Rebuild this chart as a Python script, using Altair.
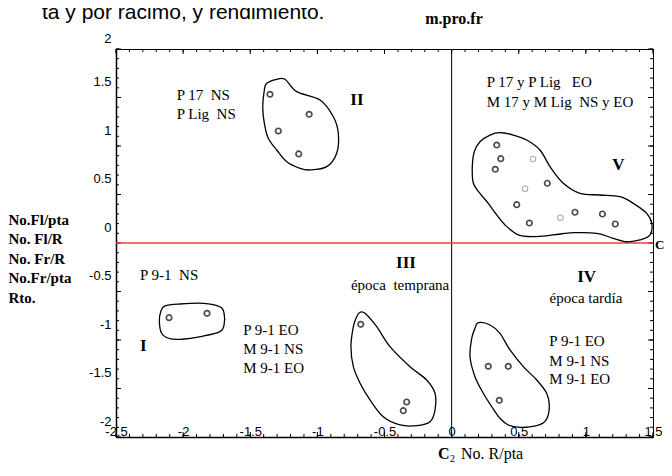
import altair as alt
import numpy as np
import pandas as pd

W, H = 537, 388

# ---------------- data ----------------
# observations (open circles)
pt_x = [-1.353, -1.061, -1.291, -1.139,
        -2.105, -1.822,
        -0.677, -0.335, -0.360,
        0.273, 0.422, 0.355,
        0.336, 0.366, 0.325, 0.606, 0.547, 0.713, 0.485, 0.579, 0.810, 0.919, 1.123, 1.219]
pt_y = [1.533, 1.327, 1.155, 0.918,
        -0.770, -0.725,
        -0.838, -1.639, -1.729,
        -1.271, -1.271, -1.622,
        1.010, 0.869, 0.760, 0.866, 0.560, 0.616, 0.395, 0.206, 0.261, 0.317, 0.299, 0.196]
pt_tone = ["dark"] * 12 + ["dark", "dark", "dark", "gray", "gray", "dark",
                           "dark", "dark", "gray", "dark", "dark", "dark"]

# hand-drawn group outlines
shape_I_x = [-2.135, -2.023, -1.850, -1.725, -1.695, -1.695, -1.725, -1.850, -2.023, -2.110, -2.160, -2.177, -2.167]
shape_I_y = [-0.649, -0.629, -0.622, -0.657, -0.725, -0.845, -0.914, -0.959, -0.993, -0.982, -0.931, -0.811, -0.708]

shape_II_x = [-1.377, -1.303, -1.241, -1.154, -0.980, -0.881, -0.844, -0.856, -0.930, -1.055, -1.129, -1.228,
              -1.303, -1.366, -1.395, -1.407, -1.395]
shape_II_y = [1.646, 1.688, 1.688, 1.560, 1.474, 1.302, 1.131, 0.925, 0.787, 0.753, 0.770, 0.838,
              0.959, 1.079, 1.234, 1.405, 1.577]

shape_III_x = [-0.682, -0.645, -0.558, -0.459, -0.310, -0.186, -0.124, -0.124, -0.161, -0.260, -0.384, -0.509,
               -0.608, -0.682, -0.732, -0.750, -0.732, -0.707]
shape_III_y = [-0.714, -0.725, -0.863, -1.069, -1.275, -1.412, -1.549, -1.722, -1.842, -1.883, -1.876, -1.791,
               -1.618, -1.446, -1.275, -1.069, -0.863, -0.760]

shape_IV_x = [0.199, 0.286, 0.360, 0.435, 0.534, 0.634, 0.708, 0.728, 0.703, 0.634, 0.509, 0.422,
              0.360, 0.299, 0.236, 0.174, 0.137, 0.150, 0.174]
shape_IV_y = [-0.822, -0.845, -0.931, -1.103, -1.275, -1.412, -1.549, -1.688, -1.825, -1.883, -1.900, -1.876,
              -1.807, -1.688, -1.549, -1.378, -1.172, -0.982, -0.879]

shape_V_x = [0.360, 0.286, 0.211, 0.169, 0.154, 0.162, 0.211, 0.273, 0.336, 0.398, 0.497, 0.609, 0.758, 0.906,
             1.081, 1.204, 1.304, 1.403, 1.478, 1.491, 1.453, 1.353, 1.254, 1.105, 0.956, 0.832, 0.733, 0.658,
             0.559, 0.459]
shape_V_y = [1.137, 1.113, 1.044, 0.941, 0.787, 0.616, 0.512, 0.409, 0.289, 0.186, 0.083, 0.065, 0.083, 0.106,
             0.100, 0.048, 0.013, 0.031, 0.083, 0.203, 0.306, 0.409, 0.477, 0.495, 0.512, 0.616, 0.787, 0.959,
             1.062, 1.113]

# annotation labels inside the plot
NB = "\u00a0"
lab_text = ["P 17" + NB * 2 + "NS", "P Lig" + NB * 2 + "NS",
            "P 17 y P Lig" + NB * 3 + "EO", "M 17 y M Lig" + NB * 2 + "NS y EO",
            "P 9-1 EO", "M 9-1 NS", "M 9-1 EO",
            "P 9-1" + NB * 2 + "NS",
            "P 9-1 EO", "M 9-1 NS", "M 9-1 EO"]
lab_x = [-2.048, -2.048, 0.261, 0.261, 0.728, 0.728, 0.728, -2.321, -1.552, -1.552, -1.552]
lab_y = [1.529, 1.330, 1.663, 1.457, -1.007, -1.214, -1.402, -0.327, -0.894, -1.093, -1.289]

epoch_text = ["época" + NB * 2 + "temprana", "época tardía"]
epoch_x = [-0.384, 1.001]
epoch_y = [-0.433, -0.567]

group_text = ["I", "II", "III", "IV", "V"]
group_x = [-2.297, -0.705, -0.340, 1.006, 1.242]
group_y = [-1.066, 1.474, -0.209, -0.347, 0.804]

x_labels = [-2.5, -2, -1.5, -1, -0.5, 0, 0.5, 1, 1.5]
y_labels = [-2, -1.5, -1, -0.5, 0, 0.5, 1, 1.5, 2]
y_title = ["No.Fl/pta", "No. Fl/R", "No. Fr/R", "No.Fr/pta", "Rto."]
top_caption = ["ta y por racimo, y rendimiento."]
top_var = ["m.pro.fr"]
c1_text = ["C"]
c2_text = ["C"]
c2_sub = ["2"]
c2_var = ["No. R/pta"]
red_line_y = [0]
black_line_x = [0]

# ---------------- tables ----------------
points = pd.DataFrame({"x": pt_x, "y": pt_y, "tone": pt_tone})
shape_parts = []
for name, sx, sy in [("I", shape_I_x, shape_I_y), ("II", shape_II_x, shape_II_y),
                     ("III", shape_III_x, shape_III_y), ("IV", shape_IV_x, shape_IV_y),
                     ("V", shape_V_x, shape_V_y)]:
    shape_parts.append(pd.DataFrame({"x": sx, "y": sy, "g": name, "i": range(len(sx))}))
shapes = pd.concat(shape_parts, ignore_index=True)
labels = pd.DataFrame({"x": lab_x, "y": lab_y, "t": lab_text})
epochs = pd.DataFrame({"x": epoch_x, "y": epoch_y, "t": epoch_text})
groups = pd.DataFrame({"x": group_x, "y": group_y, "t": group_text})

x_minor = pd.DataFrame({"x": np.round(np.arange(-2.5, 1.5001, 0.1), 2)})
x_major = pd.DataFrame({"x": x_labels})
y_minor = pd.DataFrame({"y": np.round(np.arange(-2.0, 2.0001, 0.1), 2)})
y_major = pd.DataFrame({"y": y_labels})

SERIF = "Liberation Serif"
SANS = "Liberation Sans"

xs = alt.Scale(domain=[-2.5, 1.5], nice=False, zero=False)
ys = alt.Scale(domain=[-2, 2], nice=False, zero=False)

xaxis = alt.Axis(values=x_labels, labelExpr="'' + datum.value", labelFont=SANS, labelFontSize=13,
                 labelColor="black", labelBaseline="middle", labelPadding=-6, labelFlush=False,
                 labelOverlap=False, ticks=False, tickSize=0, grid=False, domainColor="black",
                 domainWidth=1.5, title=None)
yaxis = alt.Axis(values=y_labels, labelExpr="'' + datum.value", labelFont=SANS, labelFontSize=13,
                 labelColor="black", labelPadding=5, labelFlush=False, labelOverlap=False,
                 labelOffset={"condition": {"test": "datum.value == 2", "value": -11}, "value": -16},
                 ticks=False, tickSize=0, grid=False, domainColor="black", domainWidth=1.5,
                 title=y_title, titleAngle=0, titleAlign="left", titleBaseline="alphabetic",
                 titleX=-108, titleY=175, titleFont=SERIF, titleFontSize=15, titleFontWeight="bold",
                 titleLineHeight=19.5, titleColor="black")

X = alt.X("x:Q", scale=xs, axis=xaxis)
Y = alt.Y("y:Q", scale=ys, axis=yaxis)

layers = []

# inward ticks on all four sides
for df, ln in [(x_minor, 3), (x_major, 5)]:
    layers.append(alt.Chart(df).mark_rule(color="black", strokeWidth=1).encode(
        x=X, y=alt.value(H), y2=alt.value(H - ln)))
    layers.append(alt.Chart(df).mark_rule(color="black", strokeWidth=1).encode(
        x=X, y=alt.value(0), y2=alt.value(ln)))
for df, ln in [(y_minor, 3), (y_major, 5)]:
    layers.append(alt.Chart(df).mark_rule(color="black", strokeWidth=1).encode(
        y=Y, x=alt.value(0), x2=alt.value(ln)))
    layers.append(alt.Chart(df).mark_rule(color="black", strokeWidth=1).encode(
        y=Y, x=alt.value(W), x2=alt.value(W - ln)))

# reference lines
layers.append(alt.Chart(pd.DataFrame({"x": black_line_x})).mark_rule(color="black", strokeWidth=1).encode(x=X))
layers.append(alt.Chart(pd.DataFrame({"y": red_line_y})).mark_rule(color="#f03c3c", strokeWidth=1.6).encode(y=Y))

# outlines
layers.append(alt.Chart(shapes).mark_line(interpolate="cardinal-closed", color="black", strokeWidth=1.3).encode(
    x=X, y=Y, detail="g:N", order="i:Q"))

# points
layers.append(alt.Chart(points).mark_point(shape="circle", filled=False, size=30).encode(
    x=X, y=Y,
    color=alt.Color("tone:N", scale=alt.Scale(domain=["dark", "gray"], range=["#000000", "#8a8a8a"]), legend=None),
    strokeWidth=alt.StrokeWidth("tone:N", scale=alt.Scale(domain=["dark", "gray"], range=[1.7, 1.1]), legend=None)))

# text labels
layers.append(alt.Chart(labels).mark_text(align="left", baseline="middle", font=SERIF, fontSize=15,
                                          color="black").encode(x=X, y=Y, text="t:N"))
layers.append(alt.Chart(epochs).mark_text(align="center", baseline="middle", font=SERIF, fontSize=15,
                                          color="black").encode(x=X, y=Y, text="t:N"))
layers.append(alt.Chart(groups).mark_text(align="center", baseline="middle", font=SERIF, fontSize=17,
                                          fontWeight="bold", color="black").encode(x=X, y=Y, text="t:N"))

# annotations outside the plot area
layers.append(alt.Chart(pd.DataFrame({"t": top_caption})).mark_text(
    align="left", baseline="alphabetic", font=SANS, fontSize=21, color="black").encode(
    x=alt.value(-74), y=alt.value(-30.5), text="t:N"))
layers.append(alt.Chart(pd.DataFrame({"t": top_var})).mark_text(
    align="center", baseline="middle", font=SERIF, fontSize=16, fontWeight="bold", color="black").encode(
    x=alt.value(338), y=alt.value(-30), text="t:N"))
layers.append(alt.Chart(pd.DataFrame({"t": c1_text})).mark_text(
    align="left", baseline="middle", font=SERIF, fontSize=13, fontWeight="bold", color="black").encode(
    x=alt.value(W + 2), y=alt.value(196), text="t:N"))
layers.append(alt.Chart(pd.DataFrame({"t": c2_text})).mark_text(
    align="left", baseline="middle", font=SERIF, fontSize=16, fontWeight="bold", color="black").encode(
    x=alt.value(322), y=alt.value(405), text="t:N"))
layers.append(alt.Chart(pd.DataFrame({"t": c2_sub})).mark_text(
    align="left", baseline="middle", font=SERIF, fontSize=10, color="black").encode(
    x=alt.value(334), y=alt.value(410), text="t:N"))
layers.append(alt.Chart(pd.DataFrame({"t": c2_var})).mark_text(
    align="left", baseline="middle", font=SERIF, fontSize=16, color="black").encode(
    x=alt.value(345), y=alt.value(405), text="t:N"))

chart = alt.layer(*layers).properties(
    width=W, height=H,
    autosize=alt.AutoSizeParams(type="none"),
    padding={"left": 108, "top": 41, "right": 11, "bottom": 30},
    background="white",
).configure_view(stroke="black", strokeWidth=1)

chart.save("out.html", embed_options={"renderer": "svg", "actions": False})
